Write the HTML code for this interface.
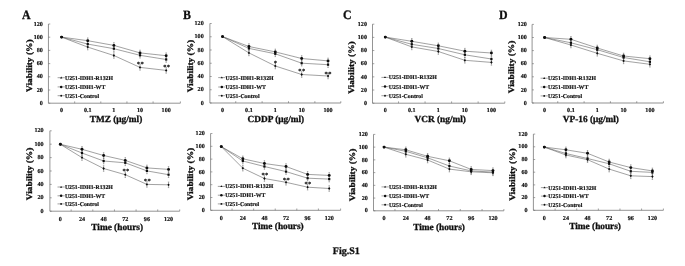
<!DOCTYPE html>
<html><head><meta charset="utf-8"><style>
html,body{margin:0;padding:0;background:#fff;}
svg{display:block;will-change:transform;}
.blur{filter:url(#bl);}
text{font-family:"Liberation Serif", serif;font-weight:bold;text-rendering:geometricPrecision;fill:#111;stroke:#111;stroke-width:0.32px;}
.leg,.xl,.yl,.sig{stroke-width:0.18px;}
</style></head><body>
<svg width="685" height="266" viewBox="0 0 685 266">
<defs><filter id="bl" x="0" y="0" width="100%" height="100%"><feGaussianBlur stdDeviation="0.3"/></filter></defs>
<rect width="685" height="266" fill="#fff"/>
<g class="blur">
<text class="let" transform="translate(21.9 18.9) scale(0.93 1)" font-size="12.8">A</text>
<path d="M48.45 24V103.2H180.4" stroke="#666" stroke-width="0.7" fill="none"/>
<path d="M48.45 103.2h1.8M48.45 90h1.8M48.45 76.8h1.8M48.45 63.6h1.8M48.45 50.4h1.8M48.45 37.2h1.8M48.45 24h1.8M74.67 103.2v-1.8M100.81 103.2v-1.8M126.95 103.2v-1.8M153.09 103.2v-1.8M180.4 103.2v-1.8" stroke="#666" stroke-width="0.6" fill="none"/>
<text class="yl" x="42.8" y="104.87" text-anchor="end" font-size="6.1">0</text>
<text class="yl" x="42.8" y="91.67" text-anchor="end" font-size="6.1">20</text>
<text class="yl" x="42.8" y="78.47" text-anchor="end" font-size="6.1">40</text>
<text class="yl" x="42.8" y="65.27" text-anchor="end" font-size="6.1">60</text>
<text class="yl" x="42.8" y="52.07" text-anchor="end" font-size="6.1">80</text>
<text class="yl" x="42.8" y="38.87" text-anchor="end" font-size="6.1">100</text>
<text class="yl" x="42.8" y="25.67" text-anchor="end" font-size="6.1">120</text>
<text class="xl" x="61.6" y="112.17" text-anchor="middle" font-size="6.1">0</text>
<text class="xl" x="87.74" y="112.17" text-anchor="middle" font-size="6.1">0.1</text>
<text class="xl" x="113.88" y="112.17" text-anchor="middle" font-size="6.1">1</text>
<text class="xl" x="140.02" y="112.17" text-anchor="middle" font-size="6.1">10</text>
<text class="xl" x="166.16" y="112.17" text-anchor="middle" font-size="6.1">100</text>
<text class="xt" x="116" y="121.97" text-anchor="middle" font-size="9.3">TMZ (μg/ml)</text>
<text class="yt" transform="translate(31.7 65.75) rotate(-90) scale(1.12 1)" text-anchor="middle" font-size="8.4">Viability (%)</text>
<path d="M61.6 37.1L87.74 40.7L113.88 45.4L140.02 52.9L166.16 55.7" stroke="#555" stroke-width="0.55" fill="none"/>
<path d="M61.6 37.1L87.74 44.1L113.88 48.7L140.02 55.3L166.16 59.5" stroke="#555" stroke-width="0.55" fill="none"/>
<path d="M61.6 37.1L87.74 47.1L113.88 55.5L140.02 67.4L166.16 70.4" stroke="#555" stroke-width="0.55" fill="none"/>
<path d="M87.74 37.9v5.6M87.04 37.9h1.4M87.04 43.5h1.4" stroke="#555" stroke-width="0.45"/>
<path d="M113.88 42.6v5.6M113.18 42.6h1.4M113.18 48.2h1.4" stroke="#555" stroke-width="0.45"/>
<path d="M140.02 50.1v5.6M139.32 50.1h1.4M139.32 55.7h1.4" stroke="#555" stroke-width="0.45"/>
<path d="M166.16 52.9v5.6M165.46 52.9h1.4M165.46 58.5h1.4" stroke="#555" stroke-width="0.45"/>
<path d="M87.74 41.3v5.6M87.04 41.3h1.4M87.04 46.9h1.4" stroke="#555" stroke-width="0.45"/>
<path d="M113.88 45.9v5.6M113.18 45.9h1.4M113.18 51.5h1.4" stroke="#555" stroke-width="0.45"/>
<path d="M140.02 52.5v5.6M139.32 52.5h1.4M139.32 58.1h1.4" stroke="#555" stroke-width="0.45"/>
<path d="M166.16 56.7v5.6M165.46 56.7h1.4M165.46 62.3h1.4" stroke="#555" stroke-width="0.45"/>
<path d="M87.74 44.3v5.6M87.04 44.3h1.4M87.04 49.9h1.4" stroke="#555" stroke-width="0.45"/>
<path d="M113.88 52.7v5.6M113.18 52.7h1.4M113.18 58.3h1.4" stroke="#555" stroke-width="0.45"/>
<path d="M140.02 64.6v5.6M139.32 64.6h1.4M139.32 70.2h1.4" stroke="#555" stroke-width="0.45"/>
<path d="M166.16 67.6v5.6M165.46 67.6h1.4M165.46 73.2h1.4" stroke="#555" stroke-width="0.45"/>
<circle cx="61.6" cy="37.1" r="1.45" fill="#111"/>
<circle cx="87.74" cy="40.7" r="1.45" fill="#111"/>
<circle cx="113.88" cy="45.4" r="1.45" fill="#111"/>
<circle cx="140.02" cy="52.9" r="1.45" fill="#111"/>
<circle cx="166.16" cy="55.7" r="1.45" fill="#111"/>
<rect x="60.5" y="36" width="2.2" height="2.2" fill="#111"/>
<rect x="86.64" y="43" width="2.2" height="2.2" fill="#111"/>
<rect x="112.78" y="47.6" width="2.2" height="2.2" fill="#111"/>
<rect x="138.92" y="54.2" width="2.2" height="2.2" fill="#111"/>
<rect x="165.06" y="58.4" width="2.2" height="2.2" fill="#111"/>
<path d="M61.6 35.7l1.2 1.4l-1.2 1.4l-1.2 -1.4z" fill="#111"/>
<path d="M87.74 45.7l1.2 1.4l-1.2 1.4l-1.2 -1.4z" fill="#111"/>
<path d="M113.88 54.1l1.2 1.4l-1.2 1.4l-1.2 -1.4z" fill="#111"/>
<path d="M140.02 66l1.2 1.4l-1.2 1.4l-1.2 -1.4z" fill="#111"/>
<path d="M166.16 69l1.2 1.4l-1.2 1.4l-1.2 -1.4z" fill="#111"/>
<text class="sig" x="140.4" y="65.6" text-anchor="middle" font-size="6.4" letter-spacing="0.4">**</text>
<text class="sig" x="166.8" y="69.4" text-anchor="middle" font-size="6.4" letter-spacing="0.4">**</text>
<path d="M57.6 77.7h7.2" stroke="#555" stroke-width="0.55"/>
<path d="M61.2 76.6l1.1 1.8h-2.2z" fill="#111"/>
<text class="leg" x="65" y="79.67" font-size="5.8">U251-IDH1-R132H</text>
<path d="M57.6 86.9h7.2" stroke="#555" stroke-width="0.55"/>
<circle cx="61.2" cy="86.9" r="1.25" fill="#111"/>
<text class="leg" x="65" y="88.87" font-size="5.8">U251-IDH1-WT</text>
<path d="M57.6 95.7h7.2" stroke="#555" stroke-width="0.55"/>
<circle cx="61.2" cy="95.7" r="0.95" fill="#111"/>
<text class="leg" x="65" y="97.67" font-size="5.8">U251-Control</text>
<path d="M49.9 130.8V211.2H179.7" stroke="#666" stroke-width="0.7" fill="none"/>
<path d="M49.9 211.2h1.8M49.9 197.8h1.8M49.9 184.4h1.8M49.9 171h1.8M49.9 157.6h1.8M49.9 144.2h1.8M49.9 130.8h1.8M71.17 211.2v-1.8M92.81 211.2v-1.8M114.45 211.2v-1.8M136.09 211.2v-1.8M157.73 211.2v-1.8M179.7 211.2v-1.8" stroke="#666" stroke-width="0.6" fill="none"/>
<text class="yl" x="43.65" y="212.87" text-anchor="end" font-size="6.1">0</text>
<text class="yl" x="43.65" y="199.47" text-anchor="end" font-size="6.1">20</text>
<text class="yl" x="43.65" y="186.07" text-anchor="end" font-size="6.1">40</text>
<text class="yl" x="43.65" y="172.67" text-anchor="end" font-size="6.1">60</text>
<text class="yl" x="43.65" y="159.27" text-anchor="end" font-size="6.1">80</text>
<text class="yl" x="43.65" y="145.87" text-anchor="end" font-size="6.1">100</text>
<text class="yl" x="43.65" y="132.47" text-anchor="end" font-size="6.1">120</text>
<text class="xl" x="60.35" y="220.77" text-anchor="middle" font-size="6.1">0</text>
<text class="xl" x="81.99" y="220.77" text-anchor="middle" font-size="6.1">24</text>
<text class="xl" x="103.63" y="220.77" text-anchor="middle" font-size="6.1">48</text>
<text class="xl" x="125.27" y="220.77" text-anchor="middle" font-size="6.1">72</text>
<text class="xl" x="146.91" y="220.77" text-anchor="middle" font-size="6.1">96</text>
<text class="xl" x="168.55" y="220.77" text-anchor="middle" font-size="6.1">120</text>
<text class="xt" x="117.2" y="229.97" text-anchor="middle" font-size="9.3">Time (hours)</text>
<text class="yt" transform="translate(31.9 174) rotate(-90) scale(1.12 1)" text-anchor="middle" font-size="8.4">Viability (%)</text>
<path d="M60.35 144.3L81.99 149.3L103.63 155.5L125.27 160.4L146.91 167.9L168.55 169.4" stroke="#555" stroke-width="0.55" fill="none"/>
<path d="M60.35 144.3L81.99 153L103.63 161L125.27 162.8L146.91 170.9L168.55 174.7" stroke="#555" stroke-width="0.55" fill="none"/>
<path d="M60.35 144.3L81.99 157.6L103.63 168.5L125.27 174.7L146.91 184.4L168.55 184.8" stroke="#555" stroke-width="0.55" fill="none"/>
<path d="M81.99 146.5v5.6M81.29 146.5h1.4M81.29 152.1h1.4" stroke="#555" stroke-width="0.45"/>
<path d="M103.63 152.7v5.6M102.93 152.7h1.4M102.93 158.3h1.4" stroke="#555" stroke-width="0.45"/>
<path d="M125.27 157.6v5.6M124.57 157.6h1.4M124.57 163.2h1.4" stroke="#555" stroke-width="0.45"/>
<path d="M146.91 165.1v5.6M146.21 165.1h1.4M146.21 170.7h1.4" stroke="#555" stroke-width="0.45"/>
<path d="M168.55 166.6v5.6M167.85 166.6h1.4M167.85 172.2h1.4" stroke="#555" stroke-width="0.45"/>
<path d="M81.99 150.2v5.6M81.29 150.2h1.4M81.29 155.8h1.4" stroke="#555" stroke-width="0.45"/>
<path d="M103.63 158.2v5.6M102.93 158.2h1.4M102.93 163.8h1.4" stroke="#555" stroke-width="0.45"/>
<path d="M125.27 160v5.6M124.57 160h1.4M124.57 165.6h1.4" stroke="#555" stroke-width="0.45"/>
<path d="M146.91 168.1v5.6M146.21 168.1h1.4M146.21 173.7h1.4" stroke="#555" stroke-width="0.45"/>
<path d="M168.55 171.9v5.6M167.85 171.9h1.4M167.85 177.5h1.4" stroke="#555" stroke-width="0.45"/>
<path d="M81.99 154.8v5.6M81.29 154.8h1.4M81.29 160.4h1.4" stroke="#555" stroke-width="0.45"/>
<path d="M103.63 165.7v5.6M102.93 165.7h1.4M102.93 171.3h1.4" stroke="#555" stroke-width="0.45"/>
<path d="M125.27 171.9v5.6M124.57 171.9h1.4M124.57 177.5h1.4" stroke="#555" stroke-width="0.45"/>
<path d="M146.91 181.6v5.6M146.21 181.6h1.4M146.21 187.2h1.4" stroke="#555" stroke-width="0.45"/>
<path d="M168.55 182v5.6M167.85 182h1.4M167.85 187.6h1.4" stroke="#555" stroke-width="0.45"/>
<circle cx="60.35" cy="144.3" r="1.45" fill="#111"/>
<circle cx="81.99" cy="149.3" r="1.45" fill="#111"/>
<circle cx="103.63" cy="155.5" r="1.45" fill="#111"/>
<circle cx="125.27" cy="160.4" r="1.45" fill="#111"/>
<circle cx="146.91" cy="167.9" r="1.45" fill="#111"/>
<circle cx="168.55" cy="169.4" r="1.45" fill="#111"/>
<rect x="59.25" y="143.2" width="2.2" height="2.2" fill="#111"/>
<rect x="80.89" y="151.9" width="2.2" height="2.2" fill="#111"/>
<rect x="102.53" y="159.9" width="2.2" height="2.2" fill="#111"/>
<rect x="124.17" y="161.7" width="2.2" height="2.2" fill="#111"/>
<rect x="145.81" y="169.8" width="2.2" height="2.2" fill="#111"/>
<rect x="167.45" y="173.6" width="2.2" height="2.2" fill="#111"/>
<path d="M60.35 142.9l1.2 1.4l-1.2 1.4l-1.2 -1.4z" fill="#111"/>
<path d="M81.99 156.2l1.2 1.4l-1.2 1.4l-1.2 -1.4z" fill="#111"/>
<path d="M103.63 167.1l1.2 1.4l-1.2 1.4l-1.2 -1.4z" fill="#111"/>
<path d="M125.27 173.3l1.2 1.4l-1.2 1.4l-1.2 -1.4z" fill="#111"/>
<path d="M146.91 183l1.2 1.4l-1.2 1.4l-1.2 -1.4z" fill="#111"/>
<path d="M168.55 183.4l1.2 1.4l-1.2 1.4l-1.2 -1.4z" fill="#111"/>
<text class="sig" x="126" y="172.7" text-anchor="middle" font-size="6.4" letter-spacing="0.4">**</text>
<text class="sig" x="147.4" y="182.5" text-anchor="middle" font-size="6.4" letter-spacing="0.4">**</text>
<path d="M57.5 187h7.2" stroke="#555" stroke-width="0.55"/>
<path d="M61.1 185.9l1.1 1.8h-2.2z" fill="#111"/>
<text class="leg" x="64.9" y="188.97" font-size="5.8">U251-IDH1-R132H</text>
<path d="M57.5 195.8h7.2" stroke="#555" stroke-width="0.55"/>
<circle cx="61.1" cy="195.8" r="1.25" fill="#111"/>
<text class="leg" x="64.9" y="197.77" font-size="5.8">U251-IDH1-WT</text>
<path d="M57.5 203.9h7.2" stroke="#555" stroke-width="0.55"/>
<circle cx="61.1" cy="203.9" r="0.95" fill="#111"/>
<text class="leg" x="64.9" y="205.87" font-size="5.8">U251-Control</text>
<text class="let" transform="translate(183.1 18.8) scale(0.93 1)" font-size="12.8">B</text>
<path d="M209.9 23.5V103H340.8" stroke="#666" stroke-width="0.7" fill="none"/>
<path d="M209.9 103h1.8M209.9 89.75h1.8M209.9 76.5h1.8M209.9 63.25h1.8M209.9 50h1.8M209.9 36.75h1.8M209.9 23.5h1.8M235.74 103v-1.8M262.11 103v-1.8M288.49 103v-1.8M314.86 103v-1.8M340.8 103v-1.8" stroke="#666" stroke-width="0.6" fill="none"/>
<text class="yl" x="203.7" y="104.67" text-anchor="end" font-size="6.1">0</text>
<text class="yl" x="203.7" y="91.42" text-anchor="end" font-size="6.1">20</text>
<text class="yl" x="203.7" y="78.17" text-anchor="end" font-size="6.1">40</text>
<text class="yl" x="203.7" y="64.92" text-anchor="end" font-size="6.1">60</text>
<text class="yl" x="203.7" y="51.67" text-anchor="end" font-size="6.1">80</text>
<text class="yl" x="203.7" y="38.42" text-anchor="end" font-size="6.1">100</text>
<text class="yl" x="203.7" y="25.17" text-anchor="end" font-size="6.1">120</text>
<text class="xl" x="222.55" y="111.97" text-anchor="middle" font-size="6.1">0</text>
<text class="xl" x="248.93" y="111.97" text-anchor="middle" font-size="6.1">0.1</text>
<text class="xl" x="275.3" y="111.97" text-anchor="middle" font-size="6.1">1</text>
<text class="xl" x="301.68" y="111.97" text-anchor="middle" font-size="6.1">10</text>
<text class="xl" x="328.05" y="111.97" text-anchor="middle" font-size="6.1">100</text>
<text class="xt" x="275.9" y="121.77" text-anchor="middle" font-size="9.3">CDDP (μg/ml)</text>
<text class="yt" transform="translate(193.2 66.1) rotate(-90) scale(1.12 1)" text-anchor="middle" font-size="8.4">Viability (%)</text>
<path d="M222.55 36.6L248.93 46.5L275.3 51.9L301.68 58.5L328.05 60.9" stroke="#555" stroke-width="0.55" fill="none"/>
<path d="M222.55 36.6L248.93 48.4L275.3 53.8L301.68 63.2L328.05 64.7" stroke="#555" stroke-width="0.55" fill="none"/>
<path d="M222.55 36.6L248.93 52.9L275.3 66L301.68 74.5L328.05 76" stroke="#555" stroke-width="0.55" fill="none"/>
<path d="M248.93 43.7v5.6M248.23 43.7h1.4M248.23 49.3h1.4" stroke="#555" stroke-width="0.45"/>
<path d="M275.3 49.1v5.6M274.6 49.1h1.4M274.6 54.7h1.4" stroke="#555" stroke-width="0.45"/>
<path d="M301.68 55.7v5.6M300.98 55.7h1.4M300.98 61.3h1.4" stroke="#555" stroke-width="0.45"/>
<path d="M328.05 58.1v5.6M327.35 58.1h1.4M327.35 63.7h1.4" stroke="#555" stroke-width="0.45"/>
<path d="M248.93 45.6v5.6M248.23 45.6h1.4M248.23 51.2h1.4" stroke="#555" stroke-width="0.45"/>
<path d="M275.3 51v5.6M274.6 51h1.4M274.6 56.6h1.4" stroke="#555" stroke-width="0.45"/>
<path d="M301.68 60.4v5.6M300.98 60.4h1.4M300.98 66h1.4" stroke="#555" stroke-width="0.45"/>
<path d="M328.05 61.9v5.6M327.35 61.9h1.4M327.35 67.5h1.4" stroke="#555" stroke-width="0.45"/>
<path d="M248.93 50.1v5.6M248.23 50.1h1.4M248.23 55.7h1.4" stroke="#555" stroke-width="0.45"/>
<path d="M275.3 63.2v5.6M274.6 63.2h1.4M274.6 68.8h1.4" stroke="#555" stroke-width="0.45"/>
<path d="M301.68 71.7v5.6M300.98 71.7h1.4M300.98 77.3h1.4" stroke="#555" stroke-width="0.45"/>
<path d="M328.05 73.2v5.6M327.35 73.2h1.4M327.35 78.8h1.4" stroke="#555" stroke-width="0.45"/>
<circle cx="222.55" cy="36.6" r="1.45" fill="#111"/>
<circle cx="248.93" cy="46.5" r="1.45" fill="#111"/>
<circle cx="275.3" cy="51.9" r="1.45" fill="#111"/>
<circle cx="301.68" cy="58.5" r="1.45" fill="#111"/>
<circle cx="328.05" cy="60.9" r="1.45" fill="#111"/>
<rect x="221.45" y="35.5" width="2.2" height="2.2" fill="#111"/>
<rect x="247.83" y="47.3" width="2.2" height="2.2" fill="#111"/>
<rect x="274.2" y="52.7" width="2.2" height="2.2" fill="#111"/>
<rect x="300.57" y="62.1" width="2.2" height="2.2" fill="#111"/>
<rect x="326.95" y="63.6" width="2.2" height="2.2" fill="#111"/>
<path d="M222.55 35.2l1.2 1.4l-1.2 1.4l-1.2 -1.4z" fill="#111"/>
<path d="M248.93 51.5l1.2 1.4l-1.2 1.4l-1.2 -1.4z" fill="#111"/>
<path d="M275.3 64.6l1.2 1.4l-1.2 1.4l-1.2 -1.4z" fill="#111"/>
<path d="M301.68 73.1l1.2 1.4l-1.2 1.4l-1.2 -1.4z" fill="#111"/>
<path d="M328.05 74.6l1.2 1.4l-1.2 1.4l-1.2 -1.4z" fill="#111"/>
<text class="sig" x="275.5" y="64.6" text-anchor="middle" font-size="6.4" letter-spacing="0.4">*</text>
<text class="sig" x="301.9" y="73.1" text-anchor="middle" font-size="6.4" letter-spacing="0.4">**</text>
<text class="sig" x="328.2" y="75.5" text-anchor="middle" font-size="6.4" letter-spacing="0.4">**</text>
<path d="M218.2 77.6h7.2" stroke="#555" stroke-width="0.55"/>
<path d="M221.8 76.5l1.1 1.8h-2.2z" fill="#111"/>
<text class="leg" x="225.6" y="79.57" font-size="5.8">U251-IDH1-R132H</text>
<path d="M218.2 87h7.2" stroke="#555" stroke-width="0.55"/>
<circle cx="221.8" cy="87" r="1.25" fill="#111"/>
<text class="leg" x="225.6" y="88.97" font-size="5.8">U251-IDH1-WT</text>
<path d="M218.2 95.7h7.2" stroke="#555" stroke-width="0.55"/>
<circle cx="221.8" cy="95.7" r="0.95" fill="#111"/>
<text class="leg" x="225.6" y="97.67" font-size="5.8">U251-Control</text>
<path d="M210.6 133.5V210.3H340.6" stroke="#666" stroke-width="0.7" fill="none"/>
<path d="M210.6 210.3h1.8M210.6 197.5h1.8M210.6 184.7h1.8M210.6 171.9h1.8M210.6 159.1h1.8M210.6 146.3h1.8M210.6 133.5h1.8M232.04 210.3v-1.8M253.63 210.3v-1.8M275.23 210.3v-1.8M296.81 210.3v-1.8M318.4 210.3v-1.8M340.6 210.3v-1.8" stroke="#666" stroke-width="0.6" fill="none"/>
<text class="yl" x="204.75" y="211.97" text-anchor="end" font-size="6.1">0</text>
<text class="yl" x="204.75" y="199.17" text-anchor="end" font-size="6.1">20</text>
<text class="yl" x="204.75" y="186.37" text-anchor="end" font-size="6.1">40</text>
<text class="yl" x="204.75" y="173.57" text-anchor="end" font-size="6.1">60</text>
<text class="yl" x="204.75" y="160.77" text-anchor="end" font-size="6.1">80</text>
<text class="yl" x="204.75" y="147.97" text-anchor="end" font-size="6.1">100</text>
<text class="yl" x="204.75" y="135.17" text-anchor="end" font-size="6.1">120</text>
<text class="xl" x="221.25" y="219.87" text-anchor="middle" font-size="6.1">0</text>
<text class="xl" x="242.84" y="219.87" text-anchor="middle" font-size="6.1">24</text>
<text class="xl" x="264.43" y="219.87" text-anchor="middle" font-size="6.1">48</text>
<text class="xl" x="286.02" y="219.87" text-anchor="middle" font-size="6.1">72</text>
<text class="xl" x="307.61" y="219.87" text-anchor="middle" font-size="6.1">96</text>
<text class="xl" x="329.2" y="219.87" text-anchor="middle" font-size="6.1">120</text>
<text class="xt" x="277.85" y="229.07" text-anchor="middle" font-size="9.3">Time (hours)</text>
<text class="yt" transform="translate(193.4 174.05) rotate(-90) scale(1.12 1)" text-anchor="middle" font-size="8.4">Viability (%)</text>
<path d="M221.25 146.6L242.84 158.8L264.43 163.5L286.02 166.5L307.61 174.4L329.2 175.4" stroke="#555" stroke-width="0.55" fill="none"/>
<path d="M221.25 146.6L242.84 161L264.43 166.5L286.02 171.6L307.61 178.2L329.2 179.1" stroke="#555" stroke-width="0.55" fill="none"/>
<path d="M221.25 146.6L242.84 168.2L264.43 178.5L286.02 182.3L307.61 187.2L329.2 188.5" stroke="#555" stroke-width="0.55" fill="none"/>
<path d="M242.84 156v5.6M242.14 156h1.4M242.14 161.6h1.4" stroke="#555" stroke-width="0.45"/>
<path d="M264.43 160.7v5.6M263.73 160.7h1.4M263.73 166.3h1.4" stroke="#555" stroke-width="0.45"/>
<path d="M286.02 163.7v5.6M285.32 163.7h1.4M285.32 169.3h1.4" stroke="#555" stroke-width="0.45"/>
<path d="M307.61 171.6v5.6M306.91 171.6h1.4M306.91 177.2h1.4" stroke="#555" stroke-width="0.45"/>
<path d="M329.2 172.6v5.6M328.5 172.6h1.4M328.5 178.2h1.4" stroke="#555" stroke-width="0.45"/>
<path d="M242.84 158.2v5.6M242.14 158.2h1.4M242.14 163.8h1.4" stroke="#555" stroke-width="0.45"/>
<path d="M264.43 163.7v5.6M263.73 163.7h1.4M263.73 169.3h1.4" stroke="#555" stroke-width="0.45"/>
<path d="M286.02 168.8v5.6M285.32 168.8h1.4M285.32 174.4h1.4" stroke="#555" stroke-width="0.45"/>
<path d="M307.61 175.4v5.6M306.91 175.4h1.4M306.91 181h1.4" stroke="#555" stroke-width="0.45"/>
<path d="M329.2 176.3v5.6M328.5 176.3h1.4M328.5 181.9h1.4" stroke="#555" stroke-width="0.45"/>
<path d="M242.84 165.4v5.6M242.14 165.4h1.4M242.14 171h1.4" stroke="#555" stroke-width="0.45"/>
<path d="M264.43 175.7v5.6M263.73 175.7h1.4M263.73 181.3h1.4" stroke="#555" stroke-width="0.45"/>
<path d="M286.02 179.5v5.6M285.32 179.5h1.4M285.32 185.1h1.4" stroke="#555" stroke-width="0.45"/>
<path d="M307.61 184.4v5.6M306.91 184.4h1.4M306.91 190h1.4" stroke="#555" stroke-width="0.45"/>
<path d="M329.2 185.7v5.6M328.5 185.7h1.4M328.5 191.3h1.4" stroke="#555" stroke-width="0.45"/>
<circle cx="221.25" cy="146.6" r="1.45" fill="#111"/>
<circle cx="242.84" cy="158.8" r="1.45" fill="#111"/>
<circle cx="264.43" cy="163.5" r="1.45" fill="#111"/>
<circle cx="286.02" cy="166.5" r="1.45" fill="#111"/>
<circle cx="307.61" cy="174.4" r="1.45" fill="#111"/>
<circle cx="329.2" cy="175.4" r="1.45" fill="#111"/>
<rect x="220.15" y="145.5" width="2.2" height="2.2" fill="#111"/>
<rect x="241.74" y="159.9" width="2.2" height="2.2" fill="#111"/>
<rect x="263.33" y="165.4" width="2.2" height="2.2" fill="#111"/>
<rect x="284.92" y="170.5" width="2.2" height="2.2" fill="#111"/>
<rect x="306.51" y="177.1" width="2.2" height="2.2" fill="#111"/>
<rect x="328.1" y="178" width="2.2" height="2.2" fill="#111"/>
<path d="M221.25 145.2l1.2 1.4l-1.2 1.4l-1.2 -1.4z" fill="#111"/>
<path d="M242.84 166.8l1.2 1.4l-1.2 1.4l-1.2 -1.4z" fill="#111"/>
<path d="M264.43 177.1l1.2 1.4l-1.2 1.4l-1.2 -1.4z" fill="#111"/>
<path d="M286.02 180.9l1.2 1.4l-1.2 1.4l-1.2 -1.4z" fill="#111"/>
<path d="M307.61 185.8l1.2 1.4l-1.2 1.4l-1.2 -1.4z" fill="#111"/>
<path d="M329.2 187.1l1.2 1.4l-1.2 1.4l-1.2 -1.4z" fill="#111"/>
<text class="sig" x="265.1" y="177.3" text-anchor="middle" font-size="6.4" letter-spacing="0.4">**</text>
<text class="sig" x="286.4" y="181.8" text-anchor="middle" font-size="6.4" letter-spacing="0.4">**</text>
<text class="sig" x="308" y="186.2" text-anchor="middle" font-size="6.4" letter-spacing="0.4">**</text>
<path d="M217.8 186.4h7.2" stroke="#555" stroke-width="0.55"/>
<path d="M221.4 185.3l1.1 1.8h-2.2z" fill="#111"/>
<text class="leg" x="225.2" y="188.37" font-size="5.8">U251-IDH1-R132H</text>
<path d="M217.8 195.2h7.2" stroke="#555" stroke-width="0.55"/>
<circle cx="221.4" cy="195.2" r="1.25" fill="#111"/>
<text class="leg" x="225.2" y="197.17" font-size="5.8">U251-IDH1-WT</text>
<path d="M217.8 203.9h7.2" stroke="#555" stroke-width="0.55"/>
<circle cx="221.4" cy="203.9" r="0.95" fill="#111"/>
<text class="leg" x="225.2" y="205.87" font-size="5.8">U251-Control</text>
<text class="let" transform="translate(342.9 19) scale(0.93 1)" font-size="12.8">C</text>
<path d="M372.5 24.2V103.2H504.8" stroke="#666" stroke-width="0.7" fill="none"/>
<path d="M372.5 103.2h1.8M372.5 90.03h1.8M372.5 76.87h1.8M372.5 63.7h1.8M372.5 50.53h1.8M372.5 37.37h1.8M372.5 24.2h1.8M398.52 103.2v-1.8M425.06 103.2v-1.8M451.6 103.2v-1.8M478.14 103.2v-1.8M504.8 103.2v-1.8" stroke="#666" stroke-width="0.6" fill="none"/>
<text class="yl" x="366.95" y="104.87" text-anchor="end" font-size="6.1">0</text>
<text class="yl" x="366.95" y="91.71" text-anchor="end" font-size="6.1">20</text>
<text class="yl" x="366.95" y="78.54" text-anchor="end" font-size="6.1">40</text>
<text class="yl" x="366.95" y="65.37" text-anchor="end" font-size="6.1">60</text>
<text class="yl" x="366.95" y="52.21" text-anchor="end" font-size="6.1">80</text>
<text class="yl" x="366.95" y="39.04" text-anchor="end" font-size="6.1">100</text>
<text class="yl" x="366.95" y="25.87" text-anchor="end" font-size="6.1">120</text>
<text class="xl" x="385.25" y="112.17" text-anchor="middle" font-size="6.1">0</text>
<text class="xl" x="411.79" y="112.17" text-anchor="middle" font-size="6.1">0.1</text>
<text class="xl" x="438.33" y="112.17" text-anchor="middle" font-size="6.1">1</text>
<text class="xl" x="464.87" y="112.17" text-anchor="middle" font-size="6.1">10</text>
<text class="xl" x="491.41" y="112.17" text-anchor="middle" font-size="6.1">100</text>
<text class="xt" x="440.2" y="121.97" text-anchor="middle" font-size="9.3">VCR (ng/ml)</text>
<text class="yt" transform="translate(354.4 67.6) rotate(-90) scale(1.12 1)" text-anchor="middle" font-size="8.4">Viability (%)</text>
<path d="M385.25 37.1L411.79 41.3L438.33 45.8L464.87 51.2L491.41 53" stroke="#555" stroke-width="0.55" fill="none"/>
<path d="M385.25 37.1L411.79 44.3L438.33 48.5L464.87 54.8L491.41 59" stroke="#555" stroke-width="0.55" fill="none"/>
<path d="M385.25 37.1L411.79 46.9L438.33 51.5L464.87 60.3L491.41 62.4" stroke="#555" stroke-width="0.55" fill="none"/>
<path d="M411.79 38.5v5.6M411.09 38.5h1.4M411.09 44.1h1.4" stroke="#555" stroke-width="0.45"/>
<path d="M438.33 43v5.6M437.63 43h1.4M437.63 48.6h1.4" stroke="#555" stroke-width="0.45"/>
<path d="M464.87 48.4v5.6M464.17 48.4h1.4M464.17 54h1.4" stroke="#555" stroke-width="0.45"/>
<path d="M491.41 50.2v5.6M490.71 50.2h1.4M490.71 55.8h1.4" stroke="#555" stroke-width="0.45"/>
<path d="M411.79 41.5v5.6M411.09 41.5h1.4M411.09 47.1h1.4" stroke="#555" stroke-width="0.45"/>
<path d="M438.33 45.7v5.6M437.63 45.7h1.4M437.63 51.3h1.4" stroke="#555" stroke-width="0.45"/>
<path d="M464.87 52v5.6M464.17 52h1.4M464.17 57.6h1.4" stroke="#555" stroke-width="0.45"/>
<path d="M491.41 56.2v5.6M490.71 56.2h1.4M490.71 61.8h1.4" stroke="#555" stroke-width="0.45"/>
<path d="M411.79 44.1v5.6M411.09 44.1h1.4M411.09 49.7h1.4" stroke="#555" stroke-width="0.45"/>
<path d="M438.33 48.7v5.6M437.63 48.7h1.4M437.63 54.3h1.4" stroke="#555" stroke-width="0.45"/>
<path d="M464.87 57.5v5.6M464.17 57.5h1.4M464.17 63.1h1.4" stroke="#555" stroke-width="0.45"/>
<path d="M491.41 59.6v5.6M490.71 59.6h1.4M490.71 65.2h1.4" stroke="#555" stroke-width="0.45"/>
<circle cx="385.25" cy="37.1" r="1.45" fill="#111"/>
<circle cx="411.79" cy="41.3" r="1.45" fill="#111"/>
<circle cx="438.33" cy="45.8" r="1.45" fill="#111"/>
<circle cx="464.87" cy="51.2" r="1.45" fill="#111"/>
<circle cx="491.41" cy="53" r="1.45" fill="#111"/>
<rect x="384.15" y="36" width="2.2" height="2.2" fill="#111"/>
<rect x="410.69" y="43.2" width="2.2" height="2.2" fill="#111"/>
<rect x="437.23" y="47.4" width="2.2" height="2.2" fill="#111"/>
<rect x="463.77" y="53.7" width="2.2" height="2.2" fill="#111"/>
<rect x="490.31" y="57.9" width="2.2" height="2.2" fill="#111"/>
<path d="M385.25 35.7l1.2 1.4l-1.2 1.4l-1.2 -1.4z" fill="#111"/>
<path d="M411.79 45.5l1.2 1.4l-1.2 1.4l-1.2 -1.4z" fill="#111"/>
<path d="M438.33 50.1l1.2 1.4l-1.2 1.4l-1.2 -1.4z" fill="#111"/>
<path d="M464.87 58.9l1.2 1.4l-1.2 1.4l-1.2 -1.4z" fill="#111"/>
<path d="M491.41 61l1.2 1.4l-1.2 1.4l-1.2 -1.4z" fill="#111"/>
<path d="M381.4 77.4h7.2" stroke="#555" stroke-width="0.55"/>
<path d="M385 76.3l1.1 1.8h-2.2z" fill="#111"/>
<text class="leg" x="388.8" y="79.37" font-size="5.8">U251-IDH1-R132H</text>
<path d="M381.4 86.6h7.2" stroke="#555" stroke-width="0.55"/>
<circle cx="385" cy="86.6" r="1.25" fill="#111"/>
<text class="leg" x="388.8" y="88.57" font-size="5.8">U251-IDH1-WT</text>
<path d="M381.4 95.7h7.2" stroke="#555" stroke-width="0.55"/>
<circle cx="385" cy="95.7" r="0.95" fill="#111"/>
<text class="leg" x="388.8" y="97.67" font-size="5.8">U251-Control</text>
<path d="M373.5 134.4V210.8H503.9" stroke="#666" stroke-width="0.7" fill="none"/>
<path d="M373.5 210.8h1.8M373.5 198.07h1.8M373.5 185.33h1.8M373.5 172.6h1.8M373.5 159.87h1.8M373.5 147.13h1.8M373.5 134.4h1.8M394.94 210.8v-1.8M416.72 210.8v-1.8M438.5 210.8v-1.8M460.28 210.8v-1.8M482.06 210.8v-1.8M503.9 210.8v-1.8" stroke="#666" stroke-width="0.6" fill="none"/>
<text class="yl" x="367.8" y="212.47" text-anchor="end" font-size="6.1">0</text>
<text class="yl" x="367.8" y="199.74" text-anchor="end" font-size="6.1">20</text>
<text class="yl" x="367.8" y="187.01" text-anchor="end" font-size="6.1">40</text>
<text class="yl" x="367.8" y="174.27" text-anchor="end" font-size="6.1">60</text>
<text class="yl" x="367.8" y="161.54" text-anchor="end" font-size="6.1">80</text>
<text class="yl" x="367.8" y="148.81" text-anchor="end" font-size="6.1">100</text>
<text class="yl" x="367.8" y="136.07" text-anchor="end" font-size="6.1">120</text>
<text class="xl" x="384.05" y="220.37" text-anchor="middle" font-size="6.1">0</text>
<text class="xl" x="405.83" y="220.37" text-anchor="middle" font-size="6.1">24</text>
<text class="xl" x="427.61" y="220.37" text-anchor="middle" font-size="6.1">48</text>
<text class="xl" x="449.39" y="220.37" text-anchor="middle" font-size="6.1">72</text>
<text class="xl" x="471.17" y="220.37" text-anchor="middle" font-size="6.1">96</text>
<text class="xl" x="492.95" y="220.37" text-anchor="middle" font-size="6.1">120</text>
<text class="xt" x="439" y="229.57" text-anchor="middle" font-size="9.3">Time (hours)</text>
<text class="yt" transform="translate(354.7 174.95) rotate(-90) scale(1.12 1)" text-anchor="middle" font-size="8.4">Viability (%)</text>
<path d="M384.05 147.1L405.83 149.8L427.61 156.3L449.39 160.8L471.17 169.4L492.95 170.6" stroke="#555" stroke-width="0.55" fill="none"/>
<path d="M384.05 147.1L405.83 151.3L427.61 157.8L449.39 166L471.17 170.9L492.95 172.1" stroke="#555" stroke-width="0.55" fill="none"/>
<path d="M384.05 147.1L405.83 154.3L427.61 160L449.39 169.1L471.17 171.8L492.95 172.8" stroke="#555" stroke-width="0.55" fill="none"/>
<path d="M405.83 147v5.6M405.13 147h1.4M405.13 152.6h1.4" stroke="#555" stroke-width="0.45"/>
<path d="M427.61 153.5v5.6M426.91 153.5h1.4M426.91 159.1h1.4" stroke="#555" stroke-width="0.45"/>
<path d="M449.39 158v5.6M448.69 158h1.4M448.69 163.6h1.4" stroke="#555" stroke-width="0.45"/>
<path d="M471.17 166.6v5.6M470.47 166.6h1.4M470.47 172.2h1.4" stroke="#555" stroke-width="0.45"/>
<path d="M492.95 167.8v5.6M492.25 167.8h1.4M492.25 173.4h1.4" stroke="#555" stroke-width="0.45"/>
<path d="M405.83 148.5v5.6M405.13 148.5h1.4M405.13 154.1h1.4" stroke="#555" stroke-width="0.45"/>
<path d="M427.61 155v5.6M426.91 155h1.4M426.91 160.6h1.4" stroke="#555" stroke-width="0.45"/>
<path d="M449.39 163.2v5.6M448.69 163.2h1.4M448.69 168.8h1.4" stroke="#555" stroke-width="0.45"/>
<path d="M471.17 168.1v5.6M470.47 168.1h1.4M470.47 173.7h1.4" stroke="#555" stroke-width="0.45"/>
<path d="M492.95 169.3v5.6M492.25 169.3h1.4M492.25 174.9h1.4" stroke="#555" stroke-width="0.45"/>
<path d="M405.83 151.5v5.6M405.13 151.5h1.4M405.13 157.1h1.4" stroke="#555" stroke-width="0.45"/>
<path d="M427.61 157.2v5.6M426.91 157.2h1.4M426.91 162.8h1.4" stroke="#555" stroke-width="0.45"/>
<path d="M449.39 166.3v5.6M448.69 166.3h1.4M448.69 171.9h1.4" stroke="#555" stroke-width="0.45"/>
<path d="M471.17 169v5.6M470.47 169h1.4M470.47 174.6h1.4" stroke="#555" stroke-width="0.45"/>
<path d="M492.95 170v5.6M492.25 170h1.4M492.25 175.6h1.4" stroke="#555" stroke-width="0.45"/>
<circle cx="384.05" cy="147.1" r="1.45" fill="#111"/>
<circle cx="405.83" cy="149.8" r="1.45" fill="#111"/>
<circle cx="427.61" cy="156.3" r="1.45" fill="#111"/>
<circle cx="449.39" cy="160.8" r="1.45" fill="#111"/>
<circle cx="471.17" cy="169.4" r="1.45" fill="#111"/>
<circle cx="492.95" cy="170.6" r="1.45" fill="#111"/>
<rect x="382.95" y="146" width="2.2" height="2.2" fill="#111"/>
<rect x="404.73" y="150.2" width="2.2" height="2.2" fill="#111"/>
<rect x="426.51" y="156.7" width="2.2" height="2.2" fill="#111"/>
<rect x="448.29" y="164.9" width="2.2" height="2.2" fill="#111"/>
<rect x="470.07" y="169.8" width="2.2" height="2.2" fill="#111"/>
<rect x="491.85" y="171" width="2.2" height="2.2" fill="#111"/>
<path d="M384.05 145.7l1.2 1.4l-1.2 1.4l-1.2 -1.4z" fill="#111"/>
<path d="M405.83 152.9l1.2 1.4l-1.2 1.4l-1.2 -1.4z" fill="#111"/>
<path d="M427.61 158.6l1.2 1.4l-1.2 1.4l-1.2 -1.4z" fill="#111"/>
<path d="M449.39 167.7l1.2 1.4l-1.2 1.4l-1.2 -1.4z" fill="#111"/>
<path d="M471.17 170.4l1.2 1.4l-1.2 1.4l-1.2 -1.4z" fill="#111"/>
<path d="M492.95 171.4l1.2 1.4l-1.2 1.4l-1.2 -1.4z" fill="#111"/>
<path d="M381.5 186.9h7.2" stroke="#555" stroke-width="0.55"/>
<path d="M385.1 185.8l1.1 1.8h-2.2z" fill="#111"/>
<text class="leg" x="388.9" y="188.87" font-size="5.8">U251-IDH1-R132H</text>
<path d="M381.5 195.9h7.2" stroke="#555" stroke-width="0.55"/>
<circle cx="385.1" cy="195.9" r="1.25" fill="#111"/>
<text class="leg" x="388.9" y="197.87" font-size="5.8">U251-IDH1-WT</text>
<path d="M381.5 204.8h7.2" stroke="#555" stroke-width="0.55"/>
<circle cx="385.1" cy="204.8" r="0.95" fill="#111"/>
<text class="leg" x="388.9" y="206.77" font-size="5.8">U251-Control</text>
<text class="let" transform="translate(499 19.1) scale(0.93 1)" font-size="12.8">D</text>
<path d="M532.1 24.4V103H663.4" stroke="#666" stroke-width="0.7" fill="none"/>
<path d="M532.1 103h1.8M532.1 89.9h1.8M532.1 76.8h1.8M532.1 63.7h1.8M532.1 50.6h1.8M532.1 37.5h1.8M532.1 24.4h1.8M557.76 103v-1.8M584.1 103v-1.8M610.42 103v-1.8M636.75 103v-1.8M663.4 103v-1.8" stroke="#666" stroke-width="0.6" fill="none"/>
<text class="yl" x="526.85" y="104.67" text-anchor="end" font-size="6.1">0</text>
<text class="yl" x="526.85" y="91.57" text-anchor="end" font-size="6.1">20</text>
<text class="yl" x="526.85" y="78.47" text-anchor="end" font-size="6.1">40</text>
<text class="yl" x="526.85" y="65.37" text-anchor="end" font-size="6.1">60</text>
<text class="yl" x="526.85" y="52.27" text-anchor="end" font-size="6.1">80</text>
<text class="yl" x="526.85" y="39.17" text-anchor="end" font-size="6.1">100</text>
<text class="yl" x="526.85" y="26.07" text-anchor="end" font-size="6.1">120</text>
<text class="xl" x="544.6" y="111.97" text-anchor="middle" font-size="6.1">0</text>
<text class="xl" x="570.93" y="111.97" text-anchor="middle" font-size="6.1">0.1</text>
<text class="xl" x="597.26" y="111.97" text-anchor="middle" font-size="6.1">1</text>
<text class="xl" x="623.59" y="111.97" text-anchor="middle" font-size="6.1">10</text>
<text class="xl" x="649.92" y="111.97" text-anchor="middle" font-size="6.1">100</text>
<text class="xt" x="590.9" y="121.77" text-anchor="middle" font-size="9.3">VP-16 (μg/ml)</text>
<text class="yt" transform="translate(514.4 66.95) rotate(-90) scale(1.12 1)" text-anchor="middle" font-size="8.4">Viability (%)</text>
<path d="M544.6 37.5L570.93 39.3L597.26 48L623.59 56L649.92 58.7" stroke="#555" stroke-width="0.55" fill="none"/>
<path d="M544.6 37.5L570.93 42.8L597.26 49.7L623.59 57.5L649.92 61.8" stroke="#555" stroke-width="0.55" fill="none"/>
<path d="M544.6 37.5L570.93 45L597.26 53.3L623.59 60.9L649.92 64.3" stroke="#555" stroke-width="0.55" fill="none"/>
<path d="M570.93 36.5v5.6M570.23 36.5h1.4M570.23 42.1h1.4" stroke="#555" stroke-width="0.45"/>
<path d="M597.26 45.2v5.6M596.56 45.2h1.4M596.56 50.8h1.4" stroke="#555" stroke-width="0.45"/>
<path d="M623.59 53.2v5.6M622.89 53.2h1.4M622.89 58.8h1.4" stroke="#555" stroke-width="0.45"/>
<path d="M649.92 55.9v5.6M649.22 55.9h1.4M649.22 61.5h1.4" stroke="#555" stroke-width="0.45"/>
<path d="M570.93 40v5.6M570.23 40h1.4M570.23 45.6h1.4" stroke="#555" stroke-width="0.45"/>
<path d="M597.26 46.9v5.6M596.56 46.9h1.4M596.56 52.5h1.4" stroke="#555" stroke-width="0.45"/>
<path d="M623.59 54.7v5.6M622.89 54.7h1.4M622.89 60.3h1.4" stroke="#555" stroke-width="0.45"/>
<path d="M649.92 59v5.6M649.22 59h1.4M649.22 64.6h1.4" stroke="#555" stroke-width="0.45"/>
<path d="M570.93 42.2v5.6M570.23 42.2h1.4M570.23 47.8h1.4" stroke="#555" stroke-width="0.45"/>
<path d="M597.26 50.5v5.6M596.56 50.5h1.4M596.56 56.1h1.4" stroke="#555" stroke-width="0.45"/>
<path d="M623.59 58.1v5.6M622.89 58.1h1.4M622.89 63.7h1.4" stroke="#555" stroke-width="0.45"/>
<path d="M649.92 61.5v5.6M649.22 61.5h1.4M649.22 67.1h1.4" stroke="#555" stroke-width="0.45"/>
<circle cx="544.6" cy="37.5" r="1.45" fill="#111"/>
<circle cx="570.93" cy="39.3" r="1.45" fill="#111"/>
<circle cx="597.26" cy="48" r="1.45" fill="#111"/>
<circle cx="623.59" cy="56" r="1.45" fill="#111"/>
<circle cx="649.92" cy="58.7" r="1.45" fill="#111"/>
<rect x="543.5" y="36.4" width="2.2" height="2.2" fill="#111"/>
<rect x="569.83" y="41.7" width="2.2" height="2.2" fill="#111"/>
<rect x="596.16" y="48.6" width="2.2" height="2.2" fill="#111"/>
<rect x="622.49" y="56.4" width="2.2" height="2.2" fill="#111"/>
<rect x="648.82" y="60.7" width="2.2" height="2.2" fill="#111"/>
<path d="M544.6 36.1l1.2 1.4l-1.2 1.4l-1.2 -1.4z" fill="#111"/>
<path d="M570.93 43.6l1.2 1.4l-1.2 1.4l-1.2 -1.4z" fill="#111"/>
<path d="M597.26 51.9l1.2 1.4l-1.2 1.4l-1.2 -1.4z" fill="#111"/>
<path d="M623.59 59.5l1.2 1.4l-1.2 1.4l-1.2 -1.4z" fill="#111"/>
<path d="M649.92 62.9l1.2 1.4l-1.2 1.4l-1.2 -1.4z" fill="#111"/>
<path d="M540.6 78.2h7.2" stroke="#555" stroke-width="0.55"/>
<path d="M544.2 77.1l1.1 1.8h-2.2z" fill="#111"/>
<text class="leg" x="548" y="80.17" font-size="5.8">U251-IDH1-R132H</text>
<path d="M540.6 87h7.2" stroke="#555" stroke-width="0.55"/>
<circle cx="544.2" cy="87" r="1.25" fill="#111"/>
<text class="leg" x="548" y="88.97" font-size="5.8">U251-IDH1-WT</text>
<path d="M540.6 95.9h7.2" stroke="#555" stroke-width="0.55"/>
<circle cx="544.2" cy="95.9" r="0.95" fill="#111"/>
<text class="leg" x="548" y="97.87" font-size="5.8">U251-Control</text>
<path d="M533.4 134.1V210.3H663.4" stroke="#666" stroke-width="0.7" fill="none"/>
<path d="M533.4 210.3h1.8M533.4 197.6h1.8M533.4 184.9h1.8M533.4 172.2h1.8M533.4 159.5h1.8M533.4 146.8h1.8M533.4 134.1h1.8M555.11 210.3v-1.8M576.73 210.3v-1.8M598.35 210.3v-1.8M619.97 210.3v-1.8M641.59 210.3v-1.8M663.4 210.3v-1.8" stroke="#666" stroke-width="0.6" fill="none"/>
<text class="yl" x="527.5" y="211.97" text-anchor="end" font-size="6.1">0</text>
<text class="yl" x="527.5" y="199.27" text-anchor="end" font-size="6.1">20</text>
<text class="yl" x="527.5" y="186.57" text-anchor="end" font-size="6.1">40</text>
<text class="yl" x="527.5" y="173.87" text-anchor="end" font-size="6.1">60</text>
<text class="yl" x="527.5" y="161.17" text-anchor="end" font-size="6.1">80</text>
<text class="yl" x="527.5" y="148.47" text-anchor="end" font-size="6.1">100</text>
<text class="yl" x="527.5" y="135.77" text-anchor="end" font-size="6.1">120</text>
<text class="xl" x="544.3" y="219.87" text-anchor="middle" font-size="6.1">0</text>
<text class="xl" x="565.92" y="219.87" text-anchor="middle" font-size="6.1">24</text>
<text class="xl" x="587.54" y="219.87" text-anchor="middle" font-size="6.1">48</text>
<text class="xl" x="609.16" y="219.87" text-anchor="middle" font-size="6.1">72</text>
<text class="xl" x="630.78" y="219.87" text-anchor="middle" font-size="6.1">96</text>
<text class="xl" x="652.4" y="219.87" text-anchor="middle" font-size="6.1">120</text>
<text class="xt" x="595.1" y="229.07" text-anchor="middle" font-size="9.3">Time (hours)</text>
<text class="yt" transform="translate(515.3 174.55) rotate(-90) scale(1.12 1)" text-anchor="middle" font-size="8.4">Viability (%)</text>
<path d="M544.3 147.1L565.92 149.8L587.54 153.3L609.16 162L630.78 167.6L652.4 170.9" stroke="#555" stroke-width="0.55" fill="none"/>
<path d="M544.3 147.1L565.92 153.5L587.54 158.5L609.16 163.8L630.78 171.3L652.4 172.4" stroke="#555" stroke-width="0.55" fill="none"/>
<path d="M544.3 147.1L565.92 155L587.54 159.7L609.16 169.1L630.78 175.8L652.4 176.6" stroke="#555" stroke-width="0.55" fill="none"/>
<path d="M565.92 147v5.6M565.22 147h1.4M565.22 152.6h1.4" stroke="#555" stroke-width="0.45"/>
<path d="M587.54 150.5v5.6M586.84 150.5h1.4M586.84 156.1h1.4" stroke="#555" stroke-width="0.45"/>
<path d="M609.16 159.2v5.6M608.46 159.2h1.4M608.46 164.8h1.4" stroke="#555" stroke-width="0.45"/>
<path d="M630.78 164.8v5.6M630.08 164.8h1.4M630.08 170.4h1.4" stroke="#555" stroke-width="0.45"/>
<path d="M652.4 168.1v5.6M651.7 168.1h1.4M651.7 173.7h1.4" stroke="#555" stroke-width="0.45"/>
<path d="M565.92 150.7v5.6M565.22 150.7h1.4M565.22 156.3h1.4" stroke="#555" stroke-width="0.45"/>
<path d="M587.54 155.7v5.6M586.84 155.7h1.4M586.84 161.3h1.4" stroke="#555" stroke-width="0.45"/>
<path d="M609.16 161v5.6M608.46 161h1.4M608.46 166.6h1.4" stroke="#555" stroke-width="0.45"/>
<path d="M630.78 168.5v5.6M630.08 168.5h1.4M630.08 174.1h1.4" stroke="#555" stroke-width="0.45"/>
<path d="M652.4 169.6v5.6M651.7 169.6h1.4M651.7 175.2h1.4" stroke="#555" stroke-width="0.45"/>
<path d="M565.92 152.2v5.6M565.22 152.2h1.4M565.22 157.8h1.4" stroke="#555" stroke-width="0.45"/>
<path d="M587.54 156.9v5.6M586.84 156.9h1.4M586.84 162.5h1.4" stroke="#555" stroke-width="0.45"/>
<path d="M609.16 166.3v5.6M608.46 166.3h1.4M608.46 171.9h1.4" stroke="#555" stroke-width="0.45"/>
<path d="M630.78 173v5.6M630.08 173h1.4M630.08 178.6h1.4" stroke="#555" stroke-width="0.45"/>
<path d="M652.4 173.8v5.6M651.7 173.8h1.4M651.7 179.4h1.4" stroke="#555" stroke-width="0.45"/>
<circle cx="544.3" cy="147.1" r="1.45" fill="#111"/>
<circle cx="565.92" cy="149.8" r="1.45" fill="#111"/>
<circle cx="587.54" cy="153.3" r="1.45" fill="#111"/>
<circle cx="609.16" cy="162" r="1.45" fill="#111"/>
<circle cx="630.78" cy="167.6" r="1.45" fill="#111"/>
<circle cx="652.4" cy="170.9" r="1.45" fill="#111"/>
<rect x="543.2" y="146" width="2.2" height="2.2" fill="#111"/>
<rect x="564.82" y="152.4" width="2.2" height="2.2" fill="#111"/>
<rect x="586.44" y="157.4" width="2.2" height="2.2" fill="#111"/>
<rect x="608.06" y="162.7" width="2.2" height="2.2" fill="#111"/>
<rect x="629.68" y="170.2" width="2.2" height="2.2" fill="#111"/>
<rect x="651.3" y="171.3" width="2.2" height="2.2" fill="#111"/>
<path d="M544.3 145.7l1.2 1.4l-1.2 1.4l-1.2 -1.4z" fill="#111"/>
<path d="M565.92 153.6l1.2 1.4l-1.2 1.4l-1.2 -1.4z" fill="#111"/>
<path d="M587.54 158.3l1.2 1.4l-1.2 1.4l-1.2 -1.4z" fill="#111"/>
<path d="M609.16 167.7l1.2 1.4l-1.2 1.4l-1.2 -1.4z" fill="#111"/>
<path d="M630.78 174.4l1.2 1.4l-1.2 1.4l-1.2 -1.4z" fill="#111"/>
<path d="M652.4 175.2l1.2 1.4l-1.2 1.4l-1.2 -1.4z" fill="#111"/>
<path d="M540.9 187.6h7.2" stroke="#555" stroke-width="0.55"/>
<path d="M544.5 186.5l1.1 1.8h-2.2z" fill="#111"/>
<text class="leg" x="548.3" y="189.57" font-size="5.8">U251-IDH1-R132H</text>
<path d="M540.9 196.1h7.2" stroke="#555" stroke-width="0.55"/>
<circle cx="544.5" cy="196.1" r="1.25" fill="#111"/>
<text class="leg" x="548.3" y="198.07" font-size="5.8">U251-IDH1-WT</text>
<path d="M540.9 204.8h7.2" stroke="#555" stroke-width="0.55"/>
<circle cx="544.5" cy="204.8" r="0.95" fill="#111"/>
<text class="leg" x="548.3" y="206.77" font-size="5.8">U251-Control</text>
<text class="fig" x="346.3" y="253.8" text-anchor="middle" font-size="10">Fig.S1</text>
</g>
</svg>
</body></html>
